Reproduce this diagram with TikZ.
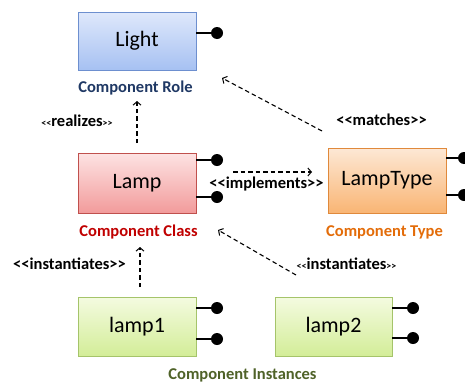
\documentclass[tikz,border=0pt]{standalone}
\usepackage{fontspec}
\setmainfont{Carlito}
\usetikzlibrary{arrows.meta,shadows,calc}
\definecolor{roleC}{HTML}{1F3864}
\definecolor{classC}{HTML}{C00000}
\definecolor{typeC}{HTML}{E36C09}
\definecolor{instC}{HTML}{4F6228}
\definecolor{roleB}{HTML}{6D8FCF}
\definecolor{roleT}{HTML}{DFE8FB}
\definecolor{roleBo}{HTML}{A6C1F2}
\definecolor{lampB}{HTML}{C0504D}
\definecolor{lampT}{HTML}{FDE3E3}
\definecolor{lampBo}{HTML}{F29B9B}
\definecolor{typeB}{HTML}{E0893B}
\definecolor{typeT}{HTML}{FDE8D5}
\definecolor{typeBo}{HTML}{F9B574}
\definecolor{instB}{HTML}{A5C46A}
\definecolor{instT}{HTML}{F4FBE0}
\definecolor{instBo}{HTML}{D3ED98}
\tikzset{
  comp/.style={draw, line width=0.8pt, minimum width=118pt, font=\fontsize{22}{24}\selectfont,
    drop shadow={shadow xshift=1.2pt, shadow yshift=-1.2pt, opacity=0.25, fill=black}},
  lbl/.style={font=\fontsize{16.5}{18}\selectfont\bfseries, inner sep=0pt},
  pinline/.style={line width=2.2pt},
  pindot/.style={circle, fill=black, minimum size=12pt, inner sep=0pt},
  dep/.style={dashed, dash pattern=on 4.5pt off 3pt, line width=1.1pt, -{Straight Barb[length=3.5pt,width=8pt,line width=1pt]}},
  x=1pt, y=-1pt
}
\newcommand{\sm}[1]{{\fontsize{10}{12}\selectfont #1}}
\newcommand{\lt}{<{}<}
\newcommand{\gt}{>{}>}
\begin{document}
\begin{tikzpicture}
\useasboundingbox (0,0) rectangle (465,383);
% boxes
\node[comp, draw=roleB, top color=roleT, bottom color=roleBo, minimum height=58pt] (light) at (137,41) {Light};
\node[comp, draw=lampB, top color=lampT, bottom color=lampBo, minimum height=60pt] (lamp) at (137,183) {Lamp};
\node[comp, draw=typeB, top color=typeT, bottom color=typeBo, minimum height=65pt] (ltype) at (387,180.5) {LampType};
\node[comp, draw=instB, top color=instT, bottom color=instBo, minimum height=59pt] (lamp1) at (137,326.5) {lamp1};
\node[comp, draw=instB, top color=instT, bottom color=instBo, minimum height=59pt, minimum width=117pt] (lamp2) at (333.5,326.5) {lamp2};
% pins
\node[pindot] (pl) at (217,33) {};
\draw[pinline] (light.east |- pl) -- (pl);
\node[pindot] (pa1) at (217,160) {};
\node[pindot] (pa2) at (217,197) {};
\draw[pinline] (lamp.east |- pa1) -- (pa1);
\draw[pinline] (lamp.east |- pa2) -- (pa2);
\node[pindot] (pt1) at (464,158) {};
\node[pindot] (pt2) at (464,195) {};
\draw[pinline] (ltype.east |- pt1) -- (pt1);
\draw[pinline] (ltype.east |- pt2) -- (pt2);
\node[pindot] (pi1) at (217,308) {};
\node[pindot] (pi2) at (217,339) {};
\draw[pinline] (lamp1.east |- pi1) -- (pi1);
\draw[pinline] (lamp1.east |- pi2) -- (pi2);
\node[pindot] (pj1) at (413,308) {};
\node[pindot] (pj2) at (413,338) {};
\draw[pinline] (lamp2.east |- pj1) -- (pj1);
\draw[pinline] (lamp2.east |- pj2) -- (pj2);
% category labels
\node[lbl, text=roleC] (lrole) at (135.5,88) {Component Role};
\node[lbl, text=classC] (lclass) at (138.5,232) {Component Class};
\node[lbl, text=typeC] (ltypelbl) at (384.5,232) {Component Type};
\node[lbl, text=instC] (linst) at (242.5,375) {Component Instances};
% relation labels
\node[lbl] (rreal) at (77,121) {\sm{\lt}realizes\sm{\gt}};
\node[lbl] (rmatch) at (381.5,120) {\lt matches\gt};
\node[lbl] (rimpl) at (266.5,184) {\lt implements\gt};
\node[lbl] (rinst1) at (69.5,264) {\lt instantiates\gt};
\node[lbl] (rinst2) at (346.5,264) {\sm{\lt}instantiates\sm{\gt}};
% arrow end coordinates
\coordinate (a1s) at (137,143);
\coordinate (a1e) at (137,101);
\coordinate (a2s) at (322,131);
\coordinate (a2e) at (222,78);
\coordinate (a3s) at (233,172);
\coordinate (a3e) at (312,172);
\coordinate (a4s) at (140,287);
\coordinate (a4e) at (140,247);
\coordinate (a5s) at (296,275);
\coordinate (a5e) at (218,230);
\draw[dep] (a1s) -- (a1e);
\draw[dep] (a2s) -- (a2e);
\draw[dep] (a3s) -- (a3e);
\draw[dep] (a4s) -- (a4e);
\draw[dep] (a5s) -- (a5e);
\end{tikzpicture}
\end{document}
